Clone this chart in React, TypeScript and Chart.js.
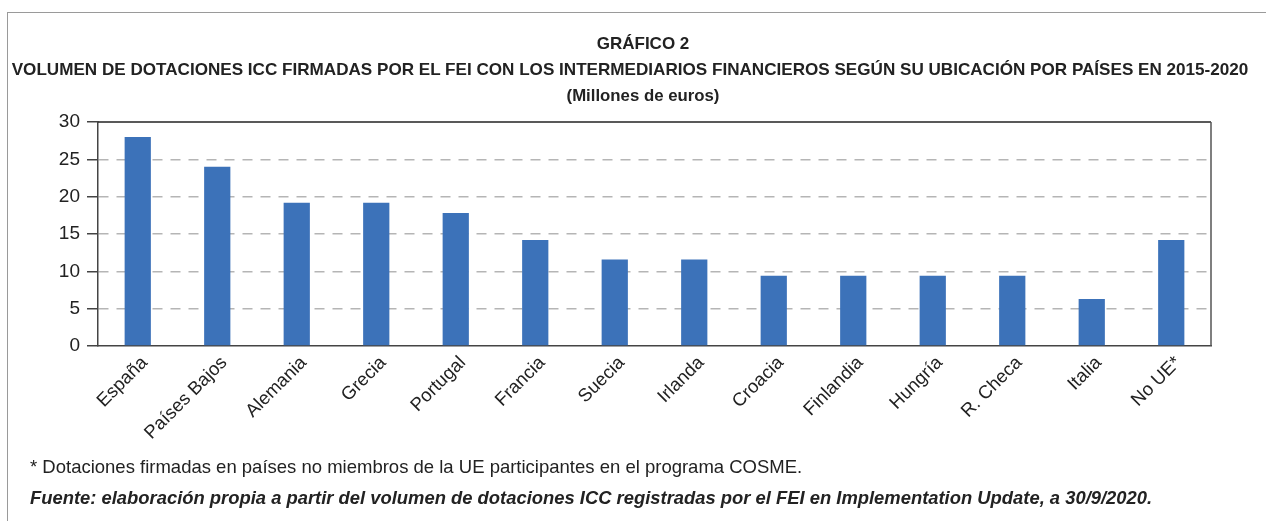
import React, { useEffect, useRef } from "react";
import { Chart, registerables } from "chart.js";

Chart.register(...registerables);

const categories = [
  "España", "Países Bajos", "Alemania", "Grecia", "Portugal", "Francia", "Suecia",
  "Irlanda", "Croacia", "Finlandia", "Hungría", "R. Checa", "Italia", "No UE*",
];
const values = [28.0, 24.0, 19.2, 19.2, 17.8, 14.2, 11.6, 11.6, 9.4, 9.4, 9.4, 9.4, 6.3, 14.2];
const yTicks = [0, 5, 10, 15, 20, 25, 30];

const titleLine1 = "GRÁFICO 2";
const titleLine2 =
  "VOLUMEN DE DOTACIONES ICC FIRMADAS POR EL FEI CON LOS INTERMEDIARIOS FINANCIEROS SEGÚN SU UBICACIÓN POR PAÍSES EN 2015-2020";
const titleLine3 = "(Millones de euros)";
const note1 = "* Dotaciones firmadas en países no miembros de la UE participantes en el programa COSME.";
const note2 =
  "Fuente: elaboración propia a partir del volumen de dotaciones ICC registradas por el FEI en Implementation Update, a 30/9/2020.";

const FONT = "'Liberation Sans', Arial, Helvetica, sans-serif";

const frameLines = {
  id: "frameLines",
  afterDraw(chart: any) {
    const { ctx, chartArea } = chart;
    ctx.save();
    ctx.lineWidth = 1.5;
    ctx.strokeStyle = "#222";
    ctx.beginPath();
    ctx.moveTo(chartArea.left, chartArea.top);
    ctx.lineTo(chartArea.right, chartArea.top);
    ctx.stroke();
    ctx.strokeStyle = "#555";
    ctx.beginPath();
    ctx.moveTo(chartArea.right, chartArea.top);
    ctx.lineTo(chartArea.right, chartArea.bottom);
    ctx.stroke();
    ctx.restore();
  },
};

export default function App() {
  const ref = useRef<HTMLCanvasElement>(null);

  useEffect(() => {
    if (!ref.current) return;
    const chart = new Chart(ref.current, {
      type: "bar",
      data: {
        labels: categories,
        datasets: [
          {
            data: values,
            backgroundColor: "#3c72b9",
            barPercentage: 0.33,
            categoryPercentage: 1,
          },
        ],
      },
      options: {
        animation: false,
        responsive: false,
        maintainAspectRatio: false,
        layout: { padding: { top: 122, right: 55, bottom: 0, left: 0 } },
        plugins: { legend: { display: false }, tooltip: { enabled: false }, title: { display: false } },
        scales: {
          x: {
            afterFit: (s: any) => {
              s.height = 175;
            },
            grid: { display: false, drawTicks: false },
            border: { display: true, color: "#444", width: 1.5 },
            ticks: {
              autoSkip: false,
              maxRotation: 45,
              minRotation: 45,
              padding: 6,
              labelOffset: 7,
              color: "#222",
              font: { family: FONT, size: 18.5 },
            },
          },
          y: {
            min: 0,
            max: 30,
            afterFit: (s: any) => {
              s.width = 98;
            },
            afterBuildTicks: (s: any) => {
              s.ticks = yTicks.map((v) => ({ value: v }));
            },
            grid: {
              color: (c: any) => (c.tick && (c.tick.value === 0 || c.tick.value === 30) ? "rgba(0,0,0,0)" : "#b5b5b5"),
              lineWidth: 1.5,
              tickLength: 11,
              tickColor: "#444",
              tickBorderDash: [],
              tickWidth: 1.5,
            },
            border: { display: true, color: "#444", width: 1.5, dash: [10, 8] },
            ticks: {
              padding: 7,
              color: "#222",
              font: { family: FONT, size: 19 },
            },
          },
        },
      },
      plugins: [frameLines],
    });
    return () => chart.destroy();
  }, []);

  const text = (content: string, cx: number, top: number, size: number, weight: string, style = "normal", align = "center") => (
    <div
      style={{
        position: "absolute",
        left: cx,
        top,
        transform: align === "center" ? "translateX(-50%)" : "none",
        whiteSpace: "nowrap",
        fontFamily: FONT,
        fontSize: size,
        lineHeight: `${size}px`,
        fontWeight: weight as any,
        fontStyle: style,
        color: "#222",
      }}
    >
      {content}
    </div>
  );

  return (
    <div style={{ position: "fixed", left: 0, top: 0, width: 1266, height: 521, background: "#fff", overflow: "hidden" }}>
      <div
        style={{
          position: "absolute",
          left: 7,
          top: 12,
          width: 1270,
          height: 520,
          borderTop: "1.5px solid #9a9a9a",
          borderLeft: "1.5px solid #9a9a9a",
        }}
      />
      <canvas ref={ref} width={1266} height={521} style={{ position: "absolute", left: 0, top: 0 }} />
      {text(titleLine1, 643, 35, 17, "bold")}
      {text(titleLine2, 630, 61, 17.1, "bold")}
      {text(titleLine3, 643, 88, 16.8, "bold")}
      {text(note1, 30, 458, 18.5, "normal", "normal", "left")}
      {text(note2, 30, 488.5, 18.4, "bold", "italic", "left")}
    </div>
  );
}
